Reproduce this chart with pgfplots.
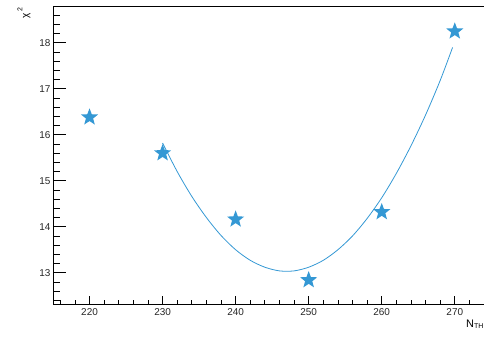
\documentclass[border=0pt]{standalone}
\usepackage{fontspec}
\setmainfont{Liberation Sans}
\usepackage{pgfplots}
\pgfplotsset{compat=1.18}
\definecolor{starblue}{RGB}{52,152,212}
\pgfdeclareplotmark{fstar}{%
  \pgfpathmoveto{\pgfpointpolar{90}{\pgfplotmarksize}}%
  \pgfpathlineto{\pgfpointpolar{126}{0.42\pgfplotmarksize}}%
  \pgfpathlineto{\pgfpointpolar{162}{\pgfplotmarksize}}%
  \pgfpathlineto{\pgfpointpolar{198}{0.42\pgfplotmarksize}}%
  \pgfpathlineto{\pgfpointpolar{234}{\pgfplotmarksize}}%
  \pgfpathlineto{\pgfpointpolar{270}{0.42\pgfplotmarksize}}%
  \pgfpathlineto{\pgfpointpolar{306}{\pgfplotmarksize}}%
  \pgfpathlineto{\pgfpointpolar{342}{0.42\pgfplotmarksize}}%
  \pgfpathlineto{\pgfpointpolar{18}{\pgfplotmarksize}}%
  \pgfpathlineto{\pgfpointpolar{54}{0.42\pgfplotmarksize}}%
  \pgfpathclose\pgfusepathqfill}
\begin{document}
\begin{tikzpicture}
\pgfplotsset{base/.style={
  scale only axis, width=431bp, height=298bp,
  xmin=215, xmax=274, ymin=12.32, ymax=18.8,
  at={(0,0)}, anchor=south west,
  axis x line*=bottom, axis y line*=left,
  axis line style={line width=0.8pt, black},
  tick style={black, line width=0.8pt},
  tick align=inside,
  /pgf/number format/assume math mode=true,
  ticklabel style={font=\fontsize{10}{12}\selectfont, text=black!85},
  clip=false,
}}
\begin{axis}[base,
  xtick={220,230,240,250,260,270},
  minor xtick={216,218,222,224,226,228,232,234,236,238,242,244,246,248,252,254,256,258,262,264,266,268,272},
  ytick=\empty,
  major tick length=8bp, minor tick length=4bp,
  xticklabel style={yshift=-1bp},
]
\draw[line width=0.8pt, black] (rel axis cs:0,1) -- (rel axis cs:1,1);
\addplot[starblue, line width=0.8pt, smooth, no marks] coordinates {
(230,15.82) (232,15.20) (234,14.66) (236,14.20) (238,13.81) (240,13.50)
(242,13.27) (244,13.12) (246,13.04) (248,13.04) (250,13.12) (252,13.27)
(254,13.50) (256,13.80) (258,14.18) (260,14.63) (262,15.16) (264,15.76)
(266,16.43) (268,17.18) (269.7,17.90)
};
\addplot[only marks, mark=fstar, mark size=9bp, starblue] coordinates {
(220,16.38) (230,15.60) (240,14.16) (250,12.84) (260,14.32) (270,18.25)
};
\node[rotate=90, anchor=east, font=\fontsize{10}{12}\selectfont, inner sep=0pt] at ([xshift=-29bp, yshift=-1bp]rel axis cs:0,1) {χ\hspace{2bp}\raisebox{6bp}{\fontsize{7}{8}\selectfont 2}};
\node[anchor=base west, inner sep=0pt, font=\fontsize{11}{13}\selectfont] at ([xshift=-18bp, yshift=-23bp]rel axis cs:1,0) {N\textsubscript{\fontsize{7}{8}\selectfont TH}};
\end{axis}
\begin{axis}[base,
  xtick=\empty,
  ytick={13,14,15,16,17,18},
  minor ytick={12.4,12.6,12.8,13.2,13.4,13.6,13.8,14.2,14.4,14.6,14.8,15.2,15.4,15.6,15.8,16.2,16.4,16.6,16.8,17.2,17.4,17.6,17.8,18.2,18.4,18.6,18.8},
  major tick length=13bp, minor tick length=6.5bp,
  yticklabel style={xshift=1bp},
]
\end{axis}
\pgfresetboundingbox
\path[use as bounding box] (-53bp,-33bp) rectangle (431bp,304bp);
\end{tikzpicture}
\end{document}
